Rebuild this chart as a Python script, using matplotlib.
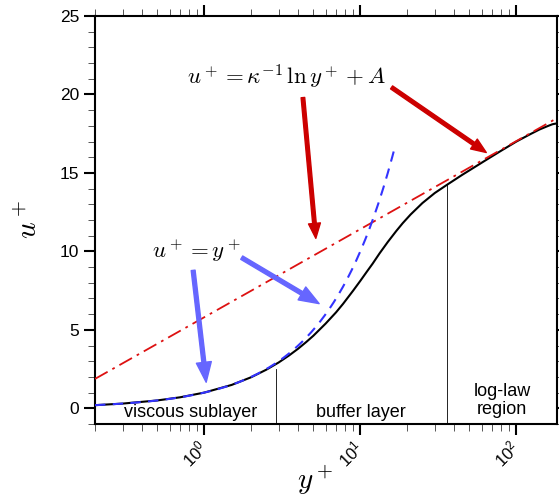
import numpy as np
import matplotlib
matplotlib.use("Agg")
import matplotlib.pyplot as plt
from matplotlib.ticker import FixedLocator, FixedFormatter, LogLocator, MultipleLocator, NullFormatter

plt.rcParams['font.family'] = ['Liberation Sans', 'DejaVu Sans']
plt.rcParams['mathtext.fontset'] = 'cm'

# mean velocity profile (wall units)
yplus = [0.2, 0.3, 0.5, 0.7, 1.0, 1.5, 2.0, 2.5, 3.0, 3.5, 4.0, 4.5, 5.0, 6.0, 7.0, 7.76, 9.0, 10.0,
         11.0, 12.0, 13.3, 15.0, 17.0, 18.7, 21.0, 25.0, 30.0, 36.0, 45.0, 55.0, 67.0, 80.0, 100.0,
         120.0, 140.0, 160.0, 170.0, 180.0]
uplus = [0.2, 0.3, 0.5, 0.7, 1.0, 1.49, 1.98, 2.46, 2.92, 3.37, 3.8, 4.22, 4.62, 5.4, 6.12, 6.66, 7.5, 8.12,
         8.7, 9.22, 9.88, 10.6, 11.3, 11.8, 12.35, 13.08, 13.72, 14.25, 14.88, 15.42, 15.95, 16.42, 17.0,
         17.42, 17.76, 18.0, 18.1, 18.15]

# viscous sublayer and log law
kappa = 0.41
A = 5.8
y_lin = np.geomspace(0.2, 16.4, 200)
y_log = np.geomspace(0.2, 182, 200)

# region boundaries
wall_y = [2.9, 36.0]
wall_top = [2.5, 14.2]

fig = plt.figure(figsize=(5.59, 4.98), dpi=100)
ax = fig.add_axes([0.170, 0.1486, 0.8265, 0.8193])

ax.plot(y_log, np.log(y_log) / kappa + A, color='#dd1111', lw=1.3, ls=(0, (8, 3, 1.5, 3)), zorder=3)
ax.plot(yplus, uplus, color='black', lw=1.5, zorder=2)
ax.plot(y_lin, y_lin, color='#3333ff', lw=1.5, ls=(0, (5, 3.5)), zorder=4)

for yw, top in zip(wall_y, wall_top):
    ax.plot([yw, yw], [-1, top], color='black', lw=0.6)

ax.text(0.814, -0.25, 'viscous sublayer', fontsize=13, ha='center', va='center')
ax.text(10.06, -0.25, 'buffer layer', fontsize=13, ha='center', va='center')
ax.text(81.0, 0.5, 'log-law\nregion', fontsize=13, ha='center', va='center', linespacing=1.05)

ax.text(3.39, 21.1, r'$u^+ = \kappa^{-1}\,\ln y^+ + A$', fontsize=16.5, ha='center', va='center')
ax.text(0.89, 10.06, r'$u^+ = y^+$', fontsize=16.5, ha='center', va='center')

red = dict(arrowstyle='simple,head_length=0.54,head_width=0.43,tail_width=0.13',
           color='#cc0000', mutation_scale=20, shrinkA=0, shrinkB=0)
blue = dict(arrowstyle='simple,head_length=0.72,head_width=0.54,tail_width=0.14',
            color='#6666ff', mutation_scale=20, shrinkA=0, shrinkB=0)
ax.annotate('', xy=(5.19, 10.83), xytext=(4.29, 19.8), arrowprops=red)
ax.annotate('', xy=(64.1, 16.3), xytext=(15.86, 20.45), arrowprops=red)
ax.annotate('', xy=(1.03, 1.66), xytext=(0.85, 8.79), arrowprops=blue)
ax.annotate('', xy=(5.45, 6.67), xytext=(1.74, 9.6), arrowprops=blue)

ax.set_xscale('log')
ax.set_xlim(0.2, 182)
ax.set_ylim(-1, 25)

ax.xaxis.set_major_locator(FixedLocator([1, 10, 100]))
ax.xaxis.set_major_formatter(FixedFormatter([r'$\mathregular{10^{0}}$', r'$\mathregular{10^{1}}$', r'$\mathregular{10^{2}}$']))
ax.xaxis.set_minor_locator(LogLocator(base=10, subs=np.arange(2, 10)))
ax.xaxis.set_minor_formatter(NullFormatter())
ax.yaxis.set_major_locator(MultipleLocator(5))
ax.yaxis.set_minor_locator(MultipleLocator(1))

ax.tick_params(which='both', direction='out', top=True, right=True)
ax.tick_params(which='major', length=8, width=1.5)
ax.tick_params(which='minor', length=5, width=0.7, color='#555555')
ax.tick_params(axis='y', labelsize=12.5)
ax.tick_params(axis='x', labelsize=12, pad=7)
for lab in ax.get_xticklabels():
    lab.set_rotation(45)
    lab.set_ha('right')
    lab.set_va('center')
    lab.set_rotation_mode('anchor')
for sp in ax.spines.values():
    sp.set_linewidth(1.5)

ax.set_ylabel(r'$u^+$', fontsize=21)
ax.yaxis.set_label_coords(-0.112, 0.5)
ax.set_xlabel(r'$y^+$', fontsize=21)
ax.xaxis.set_label_coords(0.476, -0.095)

fig.savefig('out.png', dpi=100)
